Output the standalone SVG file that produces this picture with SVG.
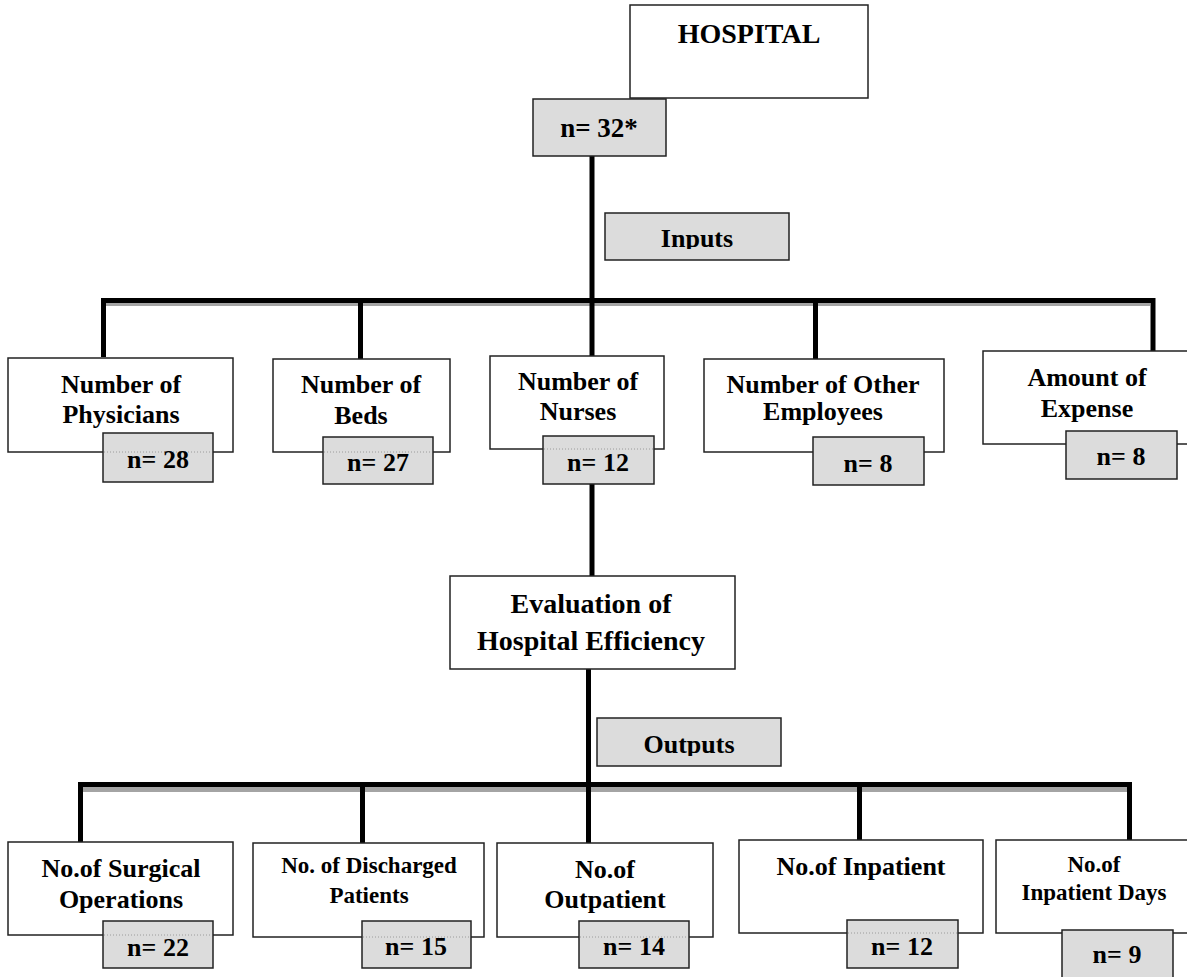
<svg xmlns="http://www.w3.org/2000/svg" width="1187" height="977" viewBox="0 0 1187 977">
<style>
  .box{fill:#ffffff;stroke:#222;stroke-width:1.5}
  .gbox{fill:#dcdcdc;stroke:#222;stroke-width:1.5}
  .ghost{stroke:#8a8a8a;stroke-width:0.8;stroke-dasharray:1 2;fill:none}
  .t{font-family:"Liberation Serif","Times New Roman",serif;font-weight:bold;font-size:26px;fill:#000;text-anchor:middle}
  .big{font-size:28px}
  .sm{font-size:23px}
  .wire{stroke:#000;stroke-width:5;fill:none;stroke-linejoin:miter}
  .shade{stroke:#a4a4a4;fill:none}
</style>
<defs>
  <clipPath id="clipIn"><rect x="605" y="213" width="184" height="36"/></clipPath>
  <clipPath id="clipOut"><rect x="597" y="718" width="184" height="38"/></clipPath>
</defs>
<rect width="1187" height="977" fill="#fff"/>

<g id="connectors">
  <line class="shade" x1="106" y1="304.5" x2="1150" y2="304.5" stroke-width="3"/>
  <path class="wire" d="M103.5,357 V300.5 H1153 V351"/>
  <line class="wire" x1="592" y1="156" x2="592" y2="356"/>
  <line class="wire" x1="360.5" y1="300" x2="360.5" y2="359"/>
  <line class="wire" x1="815.5" y1="300" x2="815.5" y2="359"/>
  <line class="wire" x1="592" y1="484" x2="592" y2="576"/>
  <line class="shade" x1="83" y1="789.5" x2="1127" y2="789.5" stroke-width="5"/>
  <path class="wire" d="M80.5,842 V784.5 H1129.5 V840"/>
  <line class="wire" x1="588.5" y1="669" x2="588.5" y2="843"/>
  <line class="wire" x1="362.5" y1="784" x2="362.5" y2="843"/>
  <line class="wire" x1="859.5" y1="784" x2="859.5" y2="840"/>
</g>

<g id="hospital">
  <rect class="box" x="630" y="5" width="238" height="93"/>
  <text class="t big" x="749" y="43">HOSPITAL</text>
</g>
<g id="hospital-n">
  <rect class="gbox" x="533" y="99" width="133" height="57"/>
  <text class="t" x="599" y="137" style="font-size:27px">n= 32*</text>
</g>
<g id="inputs">
  <rect class="gbox" x="605" y="213" width="184" height="47"/>
  <text class="t" x="697" y="247" clip-path="url(#clipIn)">Inputs</text>
</g>

<g id="physicians">
  <rect class="box" x="8" y="358" width="225" height="94"/>
  <text class="t" x="121" y="393">Number of</text>
  <text class="t" x="121" y="423">Physicians</text>
  <rect class="gbox" x="103" y="433" width="110" height="49"/>
  <line class="ghost" x1="104" y1="452" x2="212" y2="452"/>
  <text class="t" x="158" y="468">n= 28</text>
</g>
<g id="beds">
  <rect class="box" x="273" y="359" width="177" height="93"/>
  <text class="t" x="361" y="393">Number of</text>
  <text class="t" x="361" y="424">Beds</text>
  <rect class="gbox" x="323" y="437" width="110" height="47"/>
  <line class="ghost" x1="324" y1="452" x2="432" y2="452"/>
  <text class="t" x="378" y="471">n= 27</text>
</g>
<g id="nurses">
  <rect class="box" x="490" y="356" width="174" height="93"/>
  <text class="t" x="578" y="390">Number of</text>
  <text class="t" x="578" y="420">Nurses</text>
  <rect class="gbox" x="543" y="436" width="111" height="48"/>
  <line class="ghost" x1="544" y1="449" x2="653" y2="449"/>
  <text class="t" x="598" y="471">n= 12</text>
</g>
<g id="other-employees">
  <rect class="box" x="704" y="359" width="240" height="93"/>
  <text class="t" x="823" y="393">Number of Other</text>
  <text class="t" x="823" y="420">Employees</text>
  <rect class="gbox" x="813" y="437" width="111" height="48"/>
  <text class="t" x="868" y="472">n= 8</text>
</g>
<g id="expense">
  <rect class="box" x="983" y="351" width="208" height="93"/>
  <text class="t" x="1087" y="386">Amount of</text>
  <text class="t" x="1087" y="417">Expense</text>
  <rect class="gbox" x="1066" y="431" width="111" height="48"/>
  <text class="t" x="1121" y="465">n= 8</text>
</g>

<g id="evaluation">
  <rect class="box" x="450" y="576" width="285" height="93"/>
  <text class="t big" x="591" y="613">Evaluation of</text>
  <text class="t big" x="591" y="650">Hospital Efficiency</text>
</g>
<g id="outputs">
  <rect class="gbox" x="597" y="718" width="184" height="48"/>
  <text class="t" x="689" y="753" clip-path="url(#clipOut)">Outputs</text>
</g>

<g id="surgical">
  <rect class="box" x="8" y="842" width="225" height="93"/>
  <text class="t" x="121" y="877">No.of Surgical</text>
  <text class="t" x="121" y="908">Operations</text>
  <rect class="gbox" x="103" y="921" width="110" height="47"/>
  <line class="ghost" x1="104" y1="935" x2="212" y2="935"/>
  <text class="t" x="158" y="956">n= 22</text>
</g>
<g id="discharged">
  <rect class="box" x="253" y="843" width="231" height="94"/>
  <text class="t sm" x="369" y="873">No. of Discharged</text>
  <text class="t sm" x="369" y="903">Patients</text>
  <rect class="gbox" x="362" y="921" width="109" height="47"/>
  <line class="ghost" x1="363" y1="937" x2="470" y2="937"/>
  <text class="t" x="416" y="955">n= 15</text>
</g>
<g id="outpatient">
  <rect class="box" x="497" y="843" width="216" height="94"/>
  <text class="t" x="605" y="878">No.of</text>
  <text class="t" x="605" y="908">Outpatient</text>
  <rect class="gbox" x="579" y="921" width="110" height="47"/>
  <line class="ghost" x1="580" y1="937" x2="688" y2="937"/>
  <text class="t" x="634" y="955">n= 14</text>
</g>
<g id="inpatient">
  <rect class="box" x="739" y="840" width="244" height="93"/>
  <text class="t" x="861" y="875">No.of Inpatient</text>
  <rect class="gbox" x="847" y="920" width="111" height="48"/>
  <line class="ghost" x1="848" y1="933" x2="957" y2="933"/>
  <text class="t" x="902" y="955">n= 12</text>
</g>
<g id="inpatient-days">
  <rect class="box" x="996" y="840" width="195" height="93"/>
  <text class="t sm" x="1094" y="872">No.of</text>
  <text class="t sm" x="1094" y="900">Inpatient Days</text>
  <rect class="gbox" x="1062" y="930" width="111" height="50"/>
  <text class="t" x="1117" y="963">n= 9</text>
</g>
</svg>
